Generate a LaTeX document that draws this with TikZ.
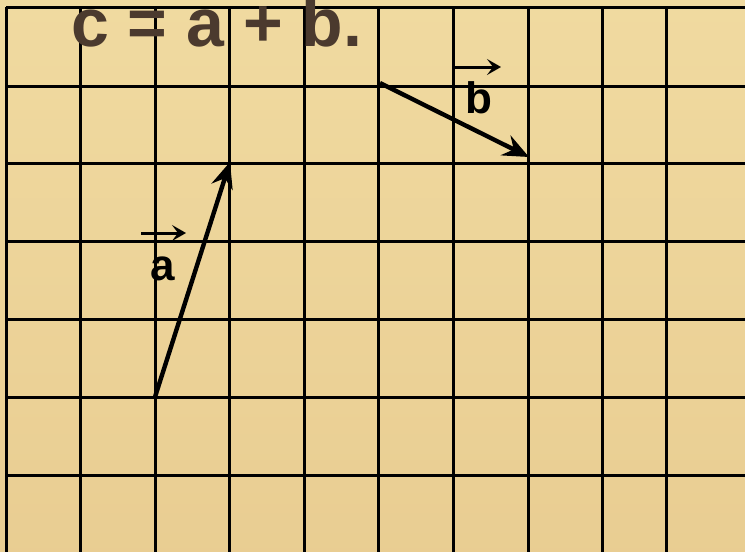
\documentclass[tikz,border=0pt]{standalone}
\usepackage{fontspec}
\setmainfont{Liberation Sans}
\usetikzlibrary{arrows.meta}
\definecolor{papyrus}{RGB}{240,218,160}
\definecolor{papyrusdark}{RGB}{230,200,140}
\definecolor{titlebrown}{RGB}{75,58,46}
\begin{document}
\begin{tikzpicture}[x=1pt,y=-1pt,
  gridline/.style={line width=3pt,black},
  vecarrow/.style={line width=4.4pt,black,-{Stealth[length=26pt,width=22pt,inset=9pt]}},
  overarrow/.style={line width=3pt,black,-{Stealth[length=14pt,width=16pt,inset=6pt]}},
  vlabel/.style={inner sep=0pt,font=\fontsize{44}{44}\selectfont\bfseries},
  title/.style={inner sep=0pt,font=\fontsize{68}{68}\selectfont\bfseries,text=titlebrown}]
\useasboundingbox (0,0) rectangle (745,552);
\shade[top color=papyrus,bottom color=papyrusdark!70!papyrus] (0,0) rectangle (745,552);
% grid
\foreach \gx in {6,80,155,229,304,378,453,528,602,666}
  \draw[gridline] (\gx,7) -- (\gx,552);
\foreach \gy in {7,86,163,241,319,397,475}
  \draw[gridline] (6,\gy) -- (745,\gy);
% title
\node[title,anchor=base west] (t) at (71,46) {c = a + b.};
% vectors
\coordinate (a0) at (155,397);
\coordinate (a1) at (230,162);
\coordinate (b0) at (380,83);
\coordinate (b1) at (529,157);
\draw[vecarrow] (a0) -- (a1);
\draw[vecarrow] (b0) -- (b1);
% labels
\node[vlabel,anchor=base] (la) at (163,280) {a};
\coordinate (ha0) at (141,233);
\coordinate (ha1) at (186,233);
\draw[overarrow] (ha0) -- (ha1);
\node[vlabel,anchor=base] (lb) at (479,113) {b};
\coordinate (hb0) at (455,67);
\coordinate (hb1) at (501,67);
\draw[overarrow] (hb0) -- (hb1);
\end{tikzpicture}
\end{document}
